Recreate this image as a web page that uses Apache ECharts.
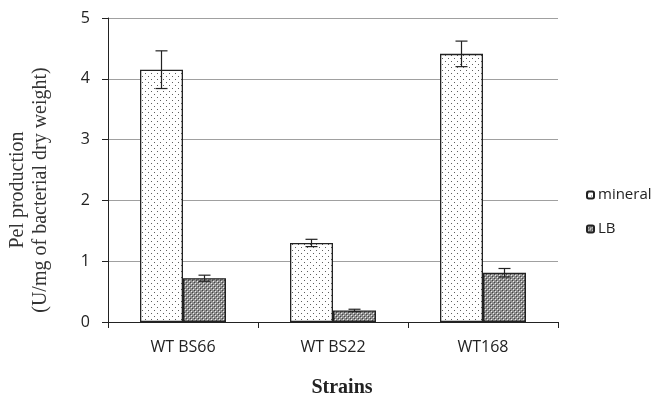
<!DOCTYPE html>
<html>
<head>
<meta charset="utf-8">
<script src="https://cdn.jsdelivr.net/npm/echarts@6/dist/echarts.min.js"></script>
<style>
  html, body { margin: 0; padding: 0; background: #fff; }
  #chart { width: 656px; height: 395px; }
</style>
</head>
<body>
<div id="chart"></div>
<script>
const strains = ['WT BS66', 'WT BS22', 'WT168']
const mineral = [4.15, 1.30, 4.41]
const mineralErr = [0.31, 0.06, 0.21]
const lb = [0.72, 0.19, 0.81]
const lbErr = [0.05, 0.02, 0.07]
const yTicks = [0, 1, 2, 3, 4, 5]

const BAR_W = 43

// dotted fill for "mineral"
function dotPattern() {
  const c = document.createElement('canvas')
  c.width = 6; c.height = 6
  const g = c.getContext('2d')
  g.fillStyle = '#ffffff'
  g.fillRect(0, 0, 6, 6)
  g.fillStyle = '#5e5e5e'
  g.fillRect(1, 1, 1, 1)
  g.fillRect(4, 4, 1, 1)
  return c
}

// small crosshatch fill for "LB"
function hatchPattern() {
  const c = document.createElement('canvas')
  c.width = 4; c.height = 4
  const g = c.getContext('2d')
  g.fillStyle = '#8f8f8f'
  g.fillRect(0, 0, 4, 4)
  g.fillStyle = '#ececec'
  g.fillRect(1, 1, 1, 1)
  g.fillRect(3, 3, 1, 1)
  g.fillStyle = '#444'
  g.fillRect(0, 0, 1, 1)
  g.fillRect(2, 2, 1, 1)
  return c
}

function errorSeries(values, errs, shift) {
  return {
    type: 'custom',
    silent: true,
    z: 5,
    data: values.map((v, i) => [i, v - errs[i], v + errs[i]]),
    renderItem: (params, api) => {
      const lo = api.coord([api.value(0), api.value(1)])
      const hi = api.coord([api.value(0), api.value(2)])
      const x = lo[0] + shift
      const style = { stroke: '#222', lineWidth: 1.2 }
      return {
        type: 'group',
        children: [
          { type: 'line', shape: { x1: x, y1: lo[1], x2: x, y2: hi[1] }, style },
          { type: 'line', shape: { x1: x - 6, y1: hi[1], x2: x + 6, y2: hi[1] }, style },
          { type: 'line', shape: { x1: x - 6, y1: lo[1], x2: x + 6, y2: lo[1] }, style }
        ]
      }
    }
  }
}

const chart = echarts.init(document.getElementById('chart'))
chart.setOption({
  animation: false,
  backgroundColor: '#fff',
  grid: { left: 108, right: 98, top: 18, bottom: 73, outerBoundsMode: 'none', containLabel: false },
  legend: {
    orient: 'vertical',
    left: 581,
    top: 182,
    itemWidth: 7,
    itemHeight: 7,
    itemGap: 18,
    textStyle: { fontFamily: 'Open Sans', fontSize: 15, lineHeight: 16, color: '#222', padding: [0, 0, 0, -1] },
    data: ['mineral', 'LB']
  },
  xAxis: {
    type: 'category',
    data: strains,
    axisLine: { lineStyle: { color: '#222', width: 1 } },
    axisTick: { show: true, length: 6, lineStyle: { color: '#222' } },
    axisLabel: { fontFamily: 'Open Sans', fontSize: 16, color: '#222', margin: 17 },
    name: 'Strains',
    nameLocation: 'middle',
    nameGap: 56,
    nameTextStyle: { fontFamily: 'Liberation Serif', fontSize: 20, fontWeight: 'bold', color: '#222', padding: [0, 0, 0, 18] }
  },
  yAxis: {
    type: 'value',
    min: yTicks[0],
    max: yTicks[yTicks.length - 1],
    interval: 1,
    axisLine: { show: true, lineStyle: { color: '#222', width: 1 } },
    axisTick: { show: true, length: 6, lineStyle: { color: '#222' } },
    axisLabel: { fontFamily: 'Open Sans', fontSize: 16, color: '#222', margin: 18 },
    splitLine: { lineStyle: { color: '#a0a0a0', width: 1 } },
    name: 'Pel production\n(U/mg of bacterial dry weight)',
    nameLocation: 'middle',
    nameGap: 56,
    nameTextStyle: { fontFamily: 'Liberation Serif', fontSize: 20, color: '#333', lineHeight: 23, padding: [0, 40, 0, 0] }
  },
  series: [
    {
      name: 'mineral',
      type: 'bar',
      data: mineral,
      barWidth: BAR_W,
      barGap: '0%',
      itemStyle: { color: { image: dotPattern(), repeat: 'repeat' }, borderColor: '#222', borderWidth: 1.3 }
    },
    {
      name: 'LB',
      type: 'bar',
      data: lb,
      barWidth: BAR_W,
      barGap: '0%',
      itemStyle: { color: { image: hatchPattern(), repeat: 'repeat' }, borderColor: '#222', borderWidth: 1.3 }
    },
    errorSeries(mineral, mineralErr, -BAR_W / 2),
    errorSeries(lb, lbErr, BAR_W / 2)
  ]
})
</script>
</body>
</html>
